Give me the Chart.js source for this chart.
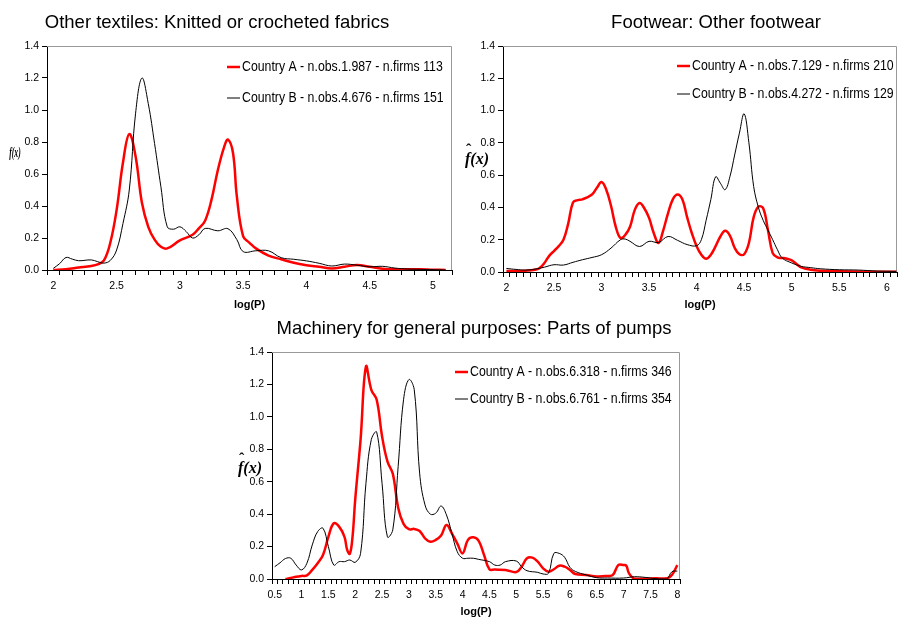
<!DOCTYPE html>
<html>
<head>
<meta charset="utf-8">
<title>Kernel densities of log prices</title>
<script src="https://cdn.jsdelivr.net/npm/chart.js@4.4.1/dist/chart.umd.min.js"></script>
<style>
  html, body { margin: 0; padding: 0; background: #fff; overflow: hidden; }
  #wrap { position: relative; width: 900px; height: 617px; }
  canvas { position: absolute; }
</style>
</head>
<body>
<div id="wrap">
  <canvas id="tex" width="460" height="315" style="left:0;top:0"></canvas>
  <canvas id="foot" width="442" height="315" style="left:460px;top:0"></canvas>
  <canvas id="pump" width="470" height="299" style="left:230px;top:318px"></canvas>
</div>
<script>
// Other textiles: Knitted or crocheted fabrics
const texX_A = [2.0, 2.1, 2.2, 2.3, 2.35, 2.4, 2.45, 2.5, 2.55, 2.6, 2.65, 2.7, 2.75, 2.8, 2.85, 2.9, 3.0, 3.1, 3.15, 3.2, 3.25, 3.3, 3.35, 3.38, 3.42, 3.45, 3.5, 3.55, 3.6, 3.7, 3.8, 3.9, 4.0, 4.1, 4.2, 4.3, 4.4, 4.5, 4.6, 4.7, 4.8, 4.9, 5.0, 5.1];
const texA = [0.0, 0.005, 0.015, 0.025, 0.035, 0.06, 0.17, 0.375, 0.67, 0.85, 0.71, 0.42, 0.27, 0.19, 0.145, 0.135, 0.185, 0.22, 0.26, 0.31, 0.44, 0.625, 0.77, 0.815, 0.73, 0.46, 0.21, 0.17, 0.135, 0.09, 0.067, 0.045, 0.03, 0.02, 0.01, 0.02, 0.032, 0.02, 0.008, 0.004, 0.005, 0.005, 0.002, 0.0];
const texX_B = [2.0, 2.05, 2.1, 2.15, 2.2, 2.3, 2.35, 2.4, 2.45, 2.5, 2.55, 2.6, 2.65, 2.7, 2.75, 2.8, 2.85, 2.9, 2.95, 3.0, 3.05, 3.1, 3.15, 3.2, 3.3, 3.38, 3.45, 3.5, 3.6, 3.7, 3.8, 3.9, 4.0, 4.1, 4.2, 4.3, 4.4, 4.5, 4.6, 4.7, 4.8, 4.9, 5.0, 5.1];
const texB = [0.01, 0.04, 0.078, 0.068, 0.058, 0.063, 0.052, 0.043, 0.06, 0.125, 0.29, 0.5, 0.98, 1.2, 1.04, 0.79, 0.52, 0.27, 0.255, 0.27, 0.24, 0.2, 0.22, 0.26, 0.245, 0.258, 0.19, 0.115, 0.12, 0.12, 0.077, 0.067, 0.057, 0.042, 0.025, 0.037, 0.03, 0.02, 0.023, 0.012, 0.006, 0.004, 0.002, 0.0];

// Footwear: Other footwear
const footX_A = [2.0, 2.1, 2.2, 2.3, 2.35, 2.4, 2.45, 2.5, 2.55, 2.6, 2.65, 2.7, 2.75, 2.8, 2.9, 2.95, 3.0, 3.05, 3.1, 3.15, 3.2, 3.25, 3.3, 3.35, 3.4, 3.45, 3.5, 3.55, 3.6, 3.65, 3.7, 3.75, 3.8, 3.85, 3.9, 3.95, 4.0, 4.05, 4.1, 4.15, 4.2, 4.25, 4.3, 4.35, 4.4, 4.45, 4.5, 4.55, 4.6, 4.65, 4.7, 4.75, 4.8, 4.85, 4.9, 4.95, 5.0, 5.05, 5.1, 5.2, 5.3, 5.5, 5.8, 6.1];
const footA = [0.006, 0.006, 0.008, 0.014, 0.025, 0.056, 0.1, 0.13, 0.16, 0.2, 0.3, 0.43, 0.445, 0.45, 0.48, 0.52, 0.557, 0.51, 0.41, 0.28, 0.21, 0.23, 0.28, 0.385, 0.427, 0.395, 0.335, 0.24, 0.18, 0.26, 0.365, 0.45, 0.48, 0.45, 0.34, 0.24, 0.16, 0.107, 0.082, 0.107, 0.16, 0.22, 0.255, 0.225, 0.15, 0.11, 0.11, 0.18, 0.34, 0.405, 0.395, 0.26, 0.117, 0.09, 0.087, 0.082, 0.072, 0.05, 0.029, 0.014, 0.008, 0.004, 0.002, 0.002];
const footX_B = [2.0, 2.1, 2.2, 2.3, 2.4, 2.5, 2.6, 2.7, 2.8, 2.9, 3.0, 3.1, 3.2, 3.25, 3.3, 3.4, 3.5, 3.6, 3.7, 3.8, 3.9, 4.0, 4.05, 4.1, 4.15, 4.2, 4.25, 4.3, 4.35, 4.4, 4.45, 4.5, 4.55, 4.6, 4.65, 4.7, 4.75, 4.8, 4.85, 4.9, 5.0, 5.1, 5.2, 5.3, 5.5, 5.7, 5.9, 6.1];
const footB = [0.022, 0.016, 0.012, 0.018, 0.03, 0.045, 0.043, 0.06, 0.076, 0.09, 0.107, 0.148, 0.2, 0.204, 0.19, 0.158, 0.19, 0.183, 0.22, 0.196, 0.17, 0.163, 0.2, 0.32, 0.45, 0.59, 0.55, 0.51, 0.59, 0.725, 0.86, 0.98, 0.8, 0.53, 0.4, 0.32, 0.26, 0.2, 0.138, 0.087, 0.056, 0.035, 0.027, 0.02, 0.014, 0.012, 0.006, 0.004];

// Machinery for general purposes: Parts of pumps
const pumpX_A = [0.7, 0.8, 0.9, 1.0, 1.1, 1.2, 1.3, 1.4, 1.5, 1.6, 1.7, 1.8, 1.85, 1.9, 1.95, 2.0, 2.1, 2.2, 2.3, 2.4, 2.5, 2.6, 2.7, 2.8, 2.9, 3.0, 3.1, 3.2, 3.3, 3.4, 3.5, 3.6, 3.7, 3.8, 3.9, 4.0, 4.1, 4.2, 4.3, 4.4, 4.5, 4.6, 4.8, 5.0, 5.1, 5.2, 5.3, 5.4, 5.5, 5.6, 5.7, 5.8, 5.9, 6.0, 6.1, 6.3, 6.5, 6.7, 6.8, 6.9, 7.0, 7.05, 7.1, 7.2, 7.4, 7.6, 7.8, 7.9, 8.0];
const pumpA = [0.0, 0.006, 0.014, 0.019, 0.022, 0.056, 0.097, 0.148, 0.26, 0.344, 0.323, 0.26, 0.18, 0.155, 0.26, 0.49, 0.86, 1.31, 1.167, 1.105, 0.88, 0.725, 0.65, 0.44, 0.34, 0.307, 0.309, 0.296, 0.251, 0.23, 0.241, 0.268, 0.333, 0.282, 0.22, 0.158, 0.241, 0.257, 0.235, 0.148, 0.06, 0.058, 0.056, 0.043, 0.076, 0.128, 0.132, 0.107, 0.066, 0.045, 0.06, 0.082, 0.076, 0.056, 0.031, 0.025, 0.016, 0.019, 0.025, 0.086, 0.086, 0.082, 0.035, 0.002, 0.002, 0.004, 0.004, 0.025, 0.086];
const pumpX_B = [0.5, 0.6, 0.7, 0.8, 0.9, 1.0, 1.1, 1.2, 1.3, 1.4, 1.5, 1.6, 1.7, 1.8, 1.9, 2.0, 2.1, 2.2, 2.3, 2.4, 2.5, 2.6, 2.7, 2.8, 2.9, 3.0, 3.1, 3.2, 3.3, 3.4, 3.5, 3.6, 3.7, 3.8, 3.9, 4.0, 4.1, 4.2, 4.3, 4.5, 4.6, 4.7, 4.8, 5.0, 5.1, 5.2, 5.4, 5.5, 5.6, 5.7, 5.8, 5.9, 6.0, 6.1, 6.3, 6.5, 6.7, 7.0, 7.2, 7.4, 7.6, 7.8, 7.9, 8.0];
const pumpB = [0.076, 0.1, 0.126, 0.128, 0.086, 0.056, 0.097, 0.21, 0.292, 0.313, 0.2, 0.086, 0.107, 0.107, 0.117, 0.103, 0.158, 0.59, 0.86, 0.906, 0.59, 0.26, 0.303, 0.694, 1.105, 1.23, 1.167, 0.653, 0.457, 0.4, 0.406, 0.45, 0.395, 0.282, 0.169, 0.128, 0.128, 0.128, 0.121, 0.107, 0.086, 0.086, 0.107, 0.111, 0.076, 0.051, 0.041, 0.031, 0.035, 0.158, 0.158, 0.134, 0.072, 0.047, 0.025, 0.008, 0.006, 0.006, 0.014, 0.01, 0.002, 0.0, 0.045, 0.049];

const SANS = "'Liberation Sans', Arial, sans-serif";

function pts(xs, ys) {
    return xs.map((x, i) => ({ x: x, y: ys[i] }));
}

// Excel style category axis: tick marks between categories, a label every few categories
function catAxis(first, step, count, every, height, titlePad) {
    return {
        type: 'linear',
        min: first - step / 2,
        max: first + (count - 1) * step + step / 2,
        afterFit: s => { s.height = height; },
        border: { display: true, color: '#000', width: 1 },
        grid: {
            drawOnChartArea: false,
            tickLength: 5,
            color: ctx => (ctx.index % 2 === 0 ? '#000' : 'rgba(0,0,0,0)')
        },
        ticks: {
            stepSize: step / 2,
            autoSkip: false,
            maxRotation: 0,
            padding: 5,
            color: '#000',
            font: { family: SANS, size: 10.5 },
            callback: (v, i) => {
                if (i % 2 === 0) return '';
                const k = (i - 1) / 2;
                if (k % every !== 0) return '';
                const val = Math.round((first + k * step) * 2) / 2;
                return Number.isInteger(val) ? String(val) : val.toFixed(1);
            }
        },
        title: {
            display: true,
            text: 'log(P)',
            color: '#000',
            font: { family: SANS, size: 11, weight: 'bold', lineHeight: 1 },
            padding: { top: 0, bottom: titlePad }
        }
    };
}

function yAxis(width) {
    return {
        min: 0,
        max: 1.4,
        afterFit: s => { s.width = width; },
        border: { display: true, color: '#000', width: 1 },
        grid: { drawOnChartArea: false, tickLength: 5, color: '#000' },
        ticks: {
            stepSize: 0.2,
            padding: 3,
            color: '#000',
            font: { family: SANS, size: 10.5 },
            callback: v => v.toFixed(1)
        }
    };
}

function series(labelA, xa, ya, labelB, xb, yb) {
    return [
        { label: labelA, data: pts(xa, ya), borderColor: '#ff0000', borderWidth: 2.5, pointRadius: 0, tension: 0.4, order: 1 },
        { label: labelB, data: pts(xb, yb), borderColor: '#000000', borderWidth: 1, pointRadius: 0, tension: 0.4, order: 0 }
    ];
}

// frame, panel title, in-plot legend and the horizontal f^(x) label
const decor = {
    id: 'decor',
    beforeDatasetsDraw(chart) {
        const { ctx, chartArea: a } = chart;
        ctx.save();
        ctx.strokeStyle = '#999999';
        ctx.lineWidth = 1;
        ctx.beginPath();
        ctx.moveTo(a.left, a.top + 0.5);
        ctx.lineTo(a.right - 0.5, a.top + 0.5);
        ctx.lineTo(a.right - 0.5, a.bottom);
        ctx.stroke();
        ctx.restore();
    },
    afterDraw(chart, args, o) {
        const ctx = chart.ctx;
        ctx.save();
        ctx.fillStyle = '#000';
        ctx.textBaseline = 'middle';

        ctx.font = '18.5px ' + SANS;
        ctx.textAlign = 'center';
        ctx.fillText(o.title, o.titleX, o.titleY);

        // legend text is condensed like the original (Arial Narrow look)
        ctx.textAlign = 'left';
        chart.data.datasets.forEach((ds, i) => {
            const y = o.legendRows[i];
            ctx.strokeStyle = ds.borderColor;
            ctx.lineWidth = ds.borderWidth;
            ctx.beginPath();
            ctx.moveTo(o.legendX, y);
            ctx.lineTo(o.legendX + 13, y);
            ctx.stroke();
            ctx.save();
            ctx.translate(o.legendX + 15, y);
            ctx.scale(0.82, 1);
            ctx.font = '15px ' + SANS;
            ctx.fillText(ds.label, 0, 0);
            ctx.restore();
        });

        ctx.translate(o.yLabelX, o.yLabelY);
        ctx.scale(o.yLabelScale, 1);
        ctx.font = "bold italic " + o.yLabelSize + "px 'Liberation Serif', serif";
        const w = ctx.measureText('f(x)').width;
        const wf = ctx.measureText('f').width;
        ctx.fillText('f(x)', -w / 2, 0);
        if (o.yLabelHat) {
            ctx.font = "bold " + o.yLabelSize + "px 'Liberation Serif', serif";
            ctx.textAlign = 'center';
            ctx.fillText('\u02C6', -w / 2 + wf / 2 + 1, -o.yLabelSize * 0.55);
        }
        ctx.restore();
    }
};

function makeChart(id, cfg) {
    return new Chart(document.getElementById(id), {
        type: 'line',
        data: { datasets: cfg.datasets },
        options: {
            responsive: false,
            animation: false,
            events: [],
            layout: { padding: cfg.padding },
            scales: { x: cfg.x, y: cfg.y },
            plugins: {
                legend: { display: false },
                tooltip: { enabled: false },
                decor: cfg.decor
            }
        },
        plugins: [decor]
    });
}

makeChart('tex', {
    datasets: series('Country A - n.obs.1.987 - n.firms 113', texX_A, texA,
                     'Country B - n.obs.4.676 - n.firms 151', texX_B, texB),
    padding: { top: 46, right: 8, left: 0, bottom: 0 },
    x: catAxis(2.0, 0.1, 32, 5, 45, 4.5),
    y: yAxis(47),
    decor: {
        title: 'Other textiles: Knitted or crocheted fabrics', titleX: 217, titleY: 23,
        legendX: 227, legendRows: [67, 98],
        yLabelX: 15, yLabelY: 153, yLabelScale: 0.55, yLabelSize: 14, yLabelHat: false
    }
});

makeChart('foot', {
    datasets: series('Country A - n.obs.7.129 - n.firms 210', footX_A, footA,
                     'Country B - n.obs.4.272 - n.firms 129', footX_B, footB),
    padding: { top: 46, right: 0, left: 0, bottom: 0 },
    x: catAxis(2.0, 1 / 14, 58, 7, 43, 4.5),
    y: yAxis(43),
    decor: {
        title: 'Footwear: Other footwear', titleX: 256, titleY: 23,
        legendX: 217, legendRows: [66, 94],
        yLabelX: 17, yLabelY: 160, yLabelScale: 1, yLabelSize: 16, yLabelHat: true
    }
});

makeChart('pump', {
    datasets: series('Country A - n.obs.6.318 - n.firms 346', pumpX_A, pumpA,
                     'Country B - n.obs.6.761 - n.firms 354', pumpX_B, pumpB),
    padding: { top: 34, right: 20, left: 0, bottom: 0 },
    x: catAxis(0.5, 0.1, 76, 5, 38, 0),
    y: yAxis(42),
    decor: {
        title: 'Machinery for general purposes: Parts of pumps', titleX: 244, titleY: 11,
        legendX: 225, legendRows: [54, 81],
        yLabelX: 20, yLabelY: 151, yLabelScale: 1, yLabelSize: 16, yLabelHat: true
    }
});
</script>
</body>
</html>
